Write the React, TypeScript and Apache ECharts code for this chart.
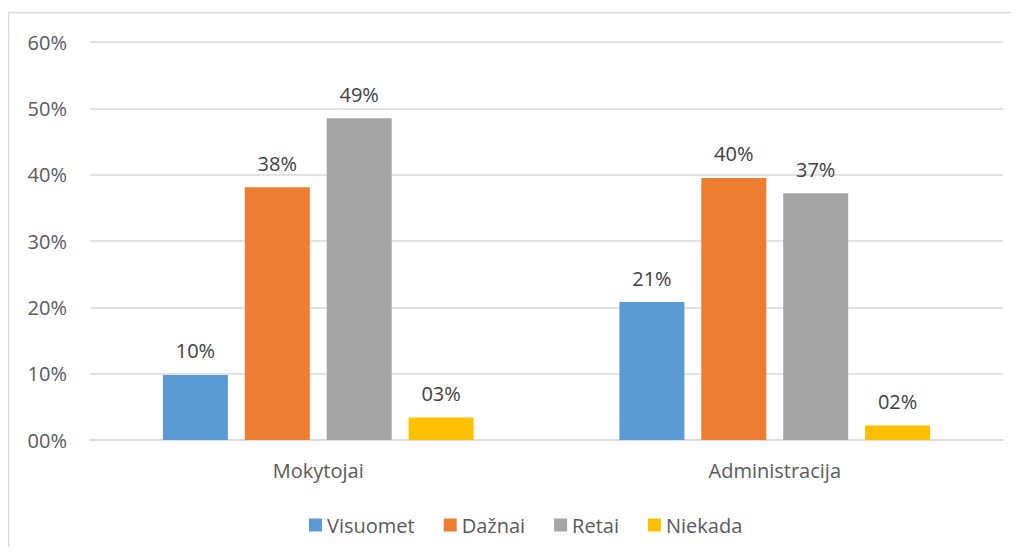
import React, { useEffect, useRef } from "react";
import * as echarts from "echarts";

const categories = ["Mokytojai", "Administracija"];
const seriesNames = ["Visuomet", "Dažnai", "Retai", "Niekada"];
const visuomet = [9.8, 20.8];
const daznai = [38.1, 39.5];
const retai = [48.5, 37.2];
const niekada = [3.4, 2.2];
const colors = ["#5B9BD5", "#ED7D31", "#A5A5A5", "#FFC000"];

const FONT = "Open Sans";
const FS = 20;
const pad2 = (v: number) => {
  const r = Math.round(v);
  return (r < 10 ? "0" + r : String(r)) + "%";
};

export default function App() {
  const ref = useRef<HTMLDivElement>(null);
  useEffect(() => {
    if (!ref.current) return;
    const chart = echarts.init(ref.current, undefined, { renderer: "svg" });
    const values = [visuomet, daznai, retai, niekada];
    chart.setOption({
      animation: false,
      color: colors,
      textStyle: { fontFamily: FONT },
      graphic: [
        {
          type: "rect",
          shape: { x: 0.5, y: 4.5, width: 1010, height: 600 },
          style: { fill: "none", stroke: "#d9d9d9", lineWidth: 1.5 },
          silent: true,
        },
      ],
      grid: { left: 82, right: 16, top: 34, bottom: 107, containLabel: false },
      legend: {
        data: seriesNames,
        top: 502,
        left: 296,
        itemWidth: 13,
        itemHeight: 13,
        itemGap: 29,
        icon: "rect",
        textStyle: { color: "#595959", fontSize: FS, fontFamily: FONT },
      },
      xAxis: {
        type: "category",
        data: categories,
        axisTick: { show: false },
        axisLine: { lineStyle: { color: "#d9d9d9", width: 1.5 } },
        axisLabel: { color: "#595959", fontSize: FS, fontFamily: FONT, margin: 20 },
      },
      yAxis: {
        type: "value",
        min: 0,
        max: 60,
        interval: 10,
        axisLine: { show: false },
        axisTick: { show: false },
        splitLine: { lineStyle: { color: "#d9d9d9", width: 1.5 } },
        axisLabel: {
          color: "#595959",
          fontSize: FS,
          fontFamily: FONT,
          margin: 23,
          formatter: (v: number) => pad2(v),
        },
      },
      series: seriesNames.map((name, i) => ({
        name,
        type: "bar",
        data: values[i],
        barWidth: 65,
        barGap: "26%",
        itemStyle: { color: colors[i] },
        label: {
          show: true,
          position: "top",
          distance: 14,
          color: "#404040",
          fontSize: FS,
          fontFamily: FONT,
          formatter: (p: any) => pad2(p.value),
        },
      })),
    });
    return () => chart.dispose();
  }, []);
  return <div ref={ref} style={{ width: 1011, height: 539 }} />;
}
